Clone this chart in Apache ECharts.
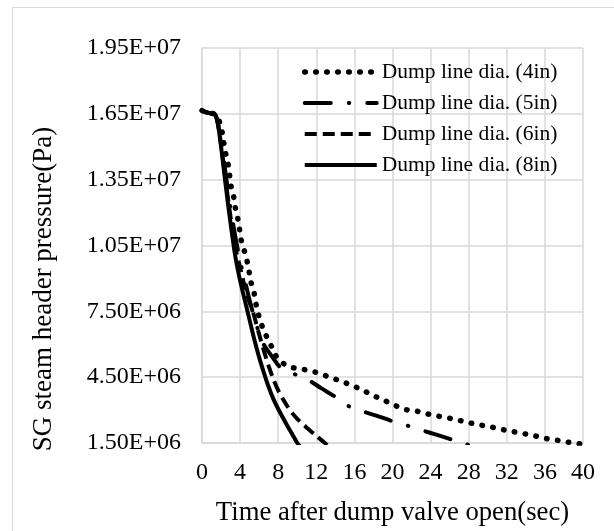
<!DOCTYPE html>
<html>
<head>
<meta charset="utf-8">
<script src="https://cdn.jsdelivr.net/npm/echarts@6/dist/echarts.min.js"></script>
<style>html,body{margin:0;padding:0;background:#fff;}#c{width:614px;height:531px;}</style>
</head>
<body>
<div id="c"></div>
<script>
// Time (s) and pressure (x1e6 Pa)
var t4 = [0, 0.6, 1.0, 1.3, 1.6, 1.81, 2.09, 2.26, 2.44, 2.68, 2.86, 3.04, 3.31, 3.49, 3.73, 3.91, 4.08, 4.43, 4.71, 4.95, 5.13, 5.48, 5.65, 5.93, 6.28, 6.77, 7.3, 7.8, 8.62, 9.66, 10.8, 11.9, 13.1, 14.2, 15.3, 16.4, 17.4, 18.5, 19.5, 20.6, 21.6, 22.8, 24.0, 25.1, 26.2, 27.4, 28.5, 29.7, 30.8, 31.9, 33.0, 34.2, 35.4, 36.5, 37.7, 38.8, 40];
var p4 = [16.65, 16.55, 16.52, 16.5, 16.35, 16.17, 15.72, 15.27, 14.77, 14.36, 13.83, 13.23, 12.75, 12.25, 11.79, 11.34, 10.81, 10.28, 9.83, 9.3, 8.85, 8.32, 7.87, 7.34, 6.86, 6.36, 5.9, 5.45, 5.1, 4.92, 4.84, 4.73, 4.55, 4.38, 4.2, 4.0, 3.79, 3.56, 3.37, 3.15, 3.0, 2.93, 2.79, 2.7, 2.61, 2.49, 2.38, 2.28, 2.19, 2.08, 1.99, 1.89, 1.78, 1.67, 1.6, 1.51, 1.45];

var t5 = [0, 0.6, 1.0, 1.3, 1.6, 2.0, 2.5, 3.0, 3.5, 4.0, 4.5, 5.0, 5.5, 6.0, 6.4, 7.0, 7.5, 8.1, 9.0, 9.66, 10.5, 11.25, 12.5, 13.87, 15.35, 16.8, 18.3, 19.8, 21.5, 23.1, 24.6, 26.1, 27.75, 28.3];
var p5 = [16.65, 16.55, 16.52, 16.5, 16.2, 15.3, 13.7, 12.2, 10.9, 9.8, 8.9, 8.0, 7.2, 6.5, 6.05, 5.65, 5.35, 5.0, 4.8, 4.65, 4.5, 4.35, 4.0, 3.64, 3.19, 2.95, 2.75, 2.52, 2.3, 2.08, 1.88, 1.67, 1.45, 1.38];

var t6 = [0, 0.6, 1.0, 1.3, 1.6, 2.0, 2.5, 3.0, 3.5, 4.0, 4.5, 5.0, 5.4, 6.0, 6.5, 7.0, 7.5, 8.0, 8.5, 9.0, 9.5, 10.0, 11.0, 12.0, 12.9, 13.3];
var p6 = [16.65, 16.55, 16.52, 16.5, 16.2, 15.1, 13.4, 11.8, 10.4, 9.5, 8.6, 7.9, 7.4, 6.45, 5.7, 5.0, 4.4, 3.9, 3.5, 3.15, 2.85, 2.6, 2.2, 1.83, 1.5, 1.35];

var t8 = [0, 0.6, 1.0, 1.3, 1.6, 2.0, 2.5, 3.0, 3.5, 4.0, 4.5, 5.0, 5.5, 6.0, 6.5, 7.0, 7.5, 8.0, 8.5, 9.0, 9.5, 10.0, 10.3];
var p8 = [16.65, 16.55, 16.52, 16.5, 16.2, 15.0, 13.2, 11.5, 10.0, 8.9, 8.0, 7.1, 6.2, 5.4, 4.7, 4.05, 3.5, 3.05, 2.65, 2.25, 1.88, 1.5, 1.35];

var seriesNames = ['Dump line dia. (4in)', 'Dump line dia. (5in)', 'Dump line dia. (6in)', 'Dump line dia. (8in)'];
var xTicks = {min: 0, max: 40, interval: 4};
var yTicks = {min: 1.5e6, max: 1.95e7, interval: 3e6};
var xTitle = 'Time after dump valve open(sec)';
var yTitle = 'SG steam header pressure(Pa)';

function pairs(t, p) { return t.map(function (v, i) { return [v, p[i] * 1e6]; }); }
function sci(v) {
  var e = Math.floor(Math.log10(v) + 1e-9);
  var m = v / Math.pow(10, e);
  return m.toFixed(2) + 'E+' + (e < 10 ? '0' + e : e);
}

var FONT = 'Liberation Serif';
var styles = [
  {color: '#000', width: 5.5, type: [0.5, 10.5], cap: 'round'},
  {color: '#000', width: 4, type: [26, 18, 0.5, 18], cap: 'round'},
  {color: '#000', width: 4, type: [12, 6]},
  {color: '#000', width: 4, type: 'solid'}
];
var chart = echarts.init(document.getElementById('c'), null, {renderer: 'canvas'});
var grid = '#d9d9d9';
chart.setOption({
  backgroundColor: '#fff',
  animation: false,
  textStyle: {fontFamily: FONT, color: '#000'},
  graphic: [{
    type: 'rect', shape: {x: 12.5, y: 7.5, width: 620, height: 560},
    style: {fill: 'none', stroke: '#d9d9d9', lineWidth: 1}, silent: true, z: -1
  }, {
    type: 'text', x: 44, y: 289, rotation: Math.PI / 2, silent: true,
    style: {text: yTitle, fontFamily: FONT, fontSize: 27, fill: '#000', align: 'center', verticalAlign: 'middle'}
  }],
  grid: {left: 202, right: 31, top: 48, bottom: 86, containLabel: false},
  legend: {
    orient: 'vertical', left: 302, top: 61, padding: 0,
    itemWidth: 72, itemHeight: 14, itemGap: 9,
    itemStyle: {opacity: 0},
    textStyle: {fontFamily: FONT, fontSize: 21.5, lineHeight: 21, color: '#000'},
    data: seriesNames.map(function (n, i) { return {name: n, lineStyle: styles[i]}; })
  },
  xAxis: {
    type: 'value', min: xTicks.min, max: xTicks.max, interval: xTicks.interval,
    name: xTitle, nameLocation: 'middle', nameGap: 56,
    nameTextStyle: {fontFamily: FONT, fontSize: 26.7, color: '#000'},
    axisLine: {show: true, lineStyle: {color: grid, width: 1.5}},
    axisTick: {show: false},
    axisLabel: {fontFamily: FONT, fontSize: 24, color: '#000', margin: 18},
    splitLine: {show: true, lineStyle: {color: grid, width: 1.5}}
  },
  yAxis: {
    type: 'value', min: yTicks.min, max: yTicks.max, interval: yTicks.interval,
    axisLine: {show: true, lineStyle: {color: grid, width: 1.5}},
    axisTick: {show: false},
    axisLabel: {fontFamily: FONT, fontSize: 24, color: '#000', margin: 21, formatter: sci},
    splitLine: {show: true, lineStyle: {color: grid, width: 1.5}}
  },
  series: [
    {name: seriesNames[0], type: 'line', data: pairs(t4, p4), symbol: 'none', smooth: 0.3, lineStyle: styles[0], itemStyle: {color: '#000'}},
    {name: seriesNames[1], type: 'line', data: pairs(t5, p5), symbol: 'none', smooth: 0.3, lineStyle: styles[1], itemStyle: {color: '#000'}},
    {name: seriesNames[2], type: 'line', data: pairs(t6, p6), symbol: 'none', smooth: 0.3, lineStyle: styles[2], itemStyle: {color: '#000'}},
    {name: seriesNames[3], type: 'line', data: pairs(t8, p8), symbol: 'none', smooth: 0.3, lineStyle: styles[3], itemStyle: {color: '#000'}}
  ]
});
</script>
</body>
</html>
